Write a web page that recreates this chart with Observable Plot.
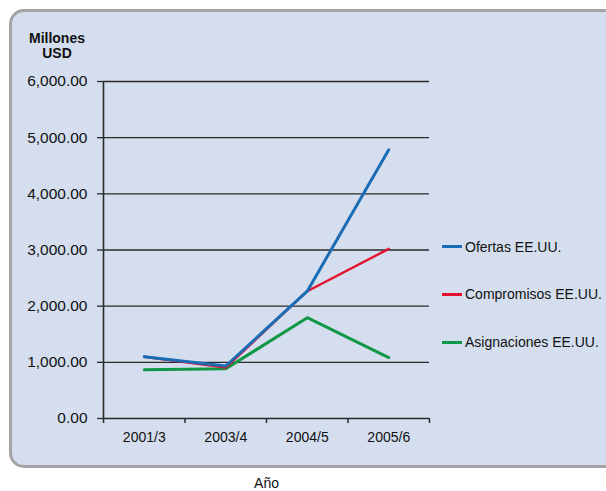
<!DOCTYPE html>
<html>
<head>
<meta charset="utf-8">
<script src="https://cdn.jsdelivr.net/npm/d3@7"></script>
<script src="https://cdn.jsdelivr.net/npm/@observablehq/plot@0.6"></script>
<style>
  html, body { margin: 0; padding: 0; background: #ffffff; }
  #wrap { position: relative; width: 606px; height: 491px; overflow: hidden; font-family: "Liberation Sans", Arial, sans-serif; }
  #panel { position: absolute; left: 9px; top: 9px; width: 620px; height: 459px; box-sizing: border-box;
           border: 3px solid #a4a4a4; border-radius: 15px; background: #d5deee; }
  #chart { position: absolute; left: 0; top: 0; }
  #ylab { position: absolute; left: 27px; top: 31px; width: 60px; text-align: center; font-weight: bold; font-size: 14px; line-height: 15px; color: #111; }
  .leg { position: absolute; left: 442px; height: 20px; display: flex; align-items: center; font-size: 14px; color: #111; white-space: nowrap; }
  .leg span.sw { display: inline-block; width: 20px; height: 3px; margin-right: 3px; }
</style>
</head>
<body>
<div id="wrap">
  <div id="panel"></div>
  <div id="chart"></div>
  <div id="ylab">Millones<br>USD</div>
</div>
<script>
const categories = ["2001/3", "2003/4", "2004/5", "2005/6"];
const seriesNames = ["Ofertas EE.UU.", "Compromisos EE.UU.", "Asignaciones EE.UU."];
const ofertas = [1100, 935, 2266, 4785];
const compromisos = [1100, 905, 2266, 3020];
const asignaciones = [866, 884, 1795, 1085];
const yTicks = [0, 1000, 2000, 3000, 4000, 5000, 6000];
const colors = ["#1a6cb5", "#e3132f", "#109846"];
const xLabel = "Año";

const seriesValues = [ofertas, compromisos, asignaciones];
const data = [];
// draw order: green, red, blue (blue on top)
[2, 1, 0].forEach(s => {
  categories.forEach((c, i) => data.push({series: seriesNames[s], idx: i + 0.5, value: seriesValues[s][i]}));
});
const bounds = d3.range(categories.length + 1);

const plot = Plot.plot({
  width: 606,
  height: 491,
  marginTop: 81,
  marginBottom: 73,
  marginLeft: 103,
  marginRight: 177,
  style: {background: "transparent", fontFamily: "'Liberation Sans', Arial, sans-serif", color: "#111"},
  x: {type: "linear", domain: [0, categories.length]},
  y: {domain: [0, 6000]},
  color: {domain: seriesNames, range: colors},
  marks: [
    Plot.ruleY(yTicks, {stroke: "#2a2a2a", strokeWidth: 1.3}),
    Plot.axisY({ticks: yTicks, tickSize: 6, tickPadding: 10, tickFormat: d3.format(",.2f"), fontSize: 15.5, stroke: "#2a2a2a", strokeWidth: 1.3, label: null}),
    Plot.axisX({ticks: bounds, tickSize: 5, tickFormat: () => "", stroke: "#2a2a2a", strokeWidth: 1.5, label: null}),
    Plot.axisX({ticks: categories.map((c, i) => i + 0.5), tickSize: 0, tickPadding: 13.5, tickFormat: d => categories[Math.floor(d)], fontSize: 14, label: null}),
    Plot.ruleX([0], {stroke: "#2a2a2a", strokeWidth: 1.6}),
    Plot.line(data, {x: "idx", y: "value", z: "series", stroke: "series", strokeWidth: d => d.series === seriesNames[1] ? 2.4 : 3}),
    Plot.text([xLabel], {frameAnchor: "bottom", dy: 69, fontSize: 14, fill: "#111", lineAnchor: "bottom"})
  ]
});
document.getElementById("chart").appendChild(plot);

// legend
const wrap = document.getElementById("wrap");
const legTops = [246.7, 294, 342];
seriesNames.forEach((n, i) => {
  const d = document.createElement("div");
  d.className = "leg";
  d.style.top = (legTops[i] - 10) + "px";
  d.innerHTML = `<span class="sw" style="background:${colors[i]}"></span>${n}`;
  wrap.appendChild(d);
});
</script>
</body>
</html>
